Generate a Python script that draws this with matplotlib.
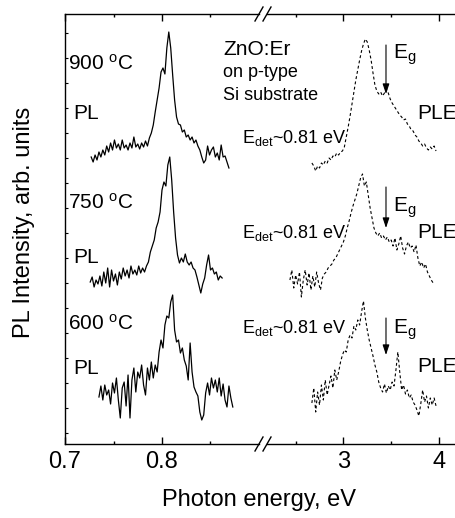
import numpy as np
import matplotlib
matplotlib.use('Agg')
import matplotlib.pyplot as plt
from matplotlib.lines import Line2D

plt.rcParams['font.family'] = ['Liberation Sans', 'DejaVu Sans']
plt.rcParams['mathtext.fontset'] = 'custom'
plt.rcParams['mathtext.rm'] = 'Liberation Sans'
plt.rcParams['mathtext.it'] = 'Liberation Sans:italic'
plt.rcParams['mathtext.default'] = 'regular'

# ---------------- data (intensity in arbitrary units, curves vertically offset) -------------
# PL spectra: photon energy grid (eV) start and step, intensity values
pl_step = 0.002
pl900_start = 0.727
pl900 = [287, 282, 289, 284, 292, 287, 294, 289, 298, 292, 301, 294, 304, 296, 300, 294,
         304, 296, 299, 294, 301, 296, 307, 297, 300, 295, 301, 297, 303, 298, 306, 311,
         319, 332, 344, 356, 372, 376, 370, 396, 412, 396, 369, 344, 327, 320, 319, 312,
         314, 307, 309, 304, 307, 301, 304, 298, 294, 287, 281, 284, 298, 289, 294, 297,
         287, 291, 284, 299, 287, 288, 282, 276]
pl750_start = 0.726
pl750 = [162, 167, 157, 164, 160, 168, 158, 172, 161, 176, 157, 174, 163, 170, 159, 172,
         165, 176, 168, 174, 166, 178, 170, 174, 169, 178, 171, 176, 172, 178, 182, 192,
         198, 204, 216, 222, 232, 254, 262, 258, 279, 287, 264, 232, 206, 189, 181, 186,
         182, 190, 182, 179, 182, 176, 174, 167, 159, 151, 160, 166, 179, 189, 174, 176,
         170, 172, 164, 168, 166]
pl600_start = 0.735
pl600 = [47, 58, 44, 59, 49, 54, 40, 61, 51, 66, 44, 26, 56, 62, 38, 69, 26, 64, 76, 52,
         72, 66, 79, 59, 49, 76, 64, 82, 66, 79, 72, 92, 104, 96, 119, 128, 126, 142, 149, 114,
         102, 104, 91, 96, 84, 78, 64, 101, 72, 57, 52, 48, 32, 24, 29, 51, 61, 49, 66, 56,
         64, 52, 66, 48, 60, 44, 37, 58, 46, 37]

# PLE spectra (detection at ~0.81 eV)
ple_step = 0.02
ple900_start = 2.67
ple900 = [281, 278, 273, 278, 276, 281, 279, 283, 281, 286, 284, 288, 287, 291, 289, 292,
          293, 297, 307, 317, 328, 340, 352, 364, 374, 384, 393, 400, 405, 402, 394, 384,
          371, 359, 353, 350, 352, 348, 351, 355, 351, 345, 341, 338, 335, 332, 329, 327,
          324, 325, 320, 318, 314, 313, 309, 307, 303, 301, 298, 300, 296, 294, 297, 295,
          298, 293]
ple750_start = 2.44
ple750 = [164, 174, 156, 169, 160, 172, 147, 164, 174, 159, 171, 154, 168, 157, 172, 161,
          154, 166, 170, 172, 176, 178, 180, 184, 186, 190, 194, 198, 202, 208, 216, 223,
          231, 238, 244, 250, 258, 266, 270, 258, 262, 249, 236, 226, 216, 211, 208, 211,
          206, 208, 204, 207, 202, 204, 198, 206, 194, 200, 208, 196, 190, 198, 202, 196,
          198, 192, 199, 186, 178, 182, 176, 180, 172, 168, 164, 161]
ple600_start = 2.67
ple600 = [41, 56, 32, 52, 39, 59, 44, 64, 49, 59, 68, 56, 74, 64, 72, 82, 89, 94, 92, 104,
          109, 106, 118, 114, 124, 119, 132, 143, 126, 114, 104, 96, 88, 79, 72, 62, 56, 52,
          60, 51, 58, 54, 62, 58, 74, 92, 72, 54, 59, 50, 54, 46, 49, 42, 39, 34, 28, 40,
          54, 42, 48, 36, 46, 39, 46, 38]

temps = ['900', '750', '600']
e_gap = 3.446

# ---------------- layout helpers (pixel -> figure fraction) ----------------
W, H = 456, 518
fig = plt.figure(figsize=(W / 100, H / 100), dpi=100)


def fx(px):
    return px / W


def fy(py):
    return 1 - py / H


top, bot = 14, 444
ax1 = fig.add_axes([fx(65), fy(bot), fx(259) - fx(65), fy(top) - fy(bot)])
ax2 = fig.add_axes([fx(267), fy(bot), fx(458) - fx(267), fy(top) - fy(bot)])

for start, vals in [(pl900_start, pl900), (pl750_start, pl750), (pl600_start, pl600)]:
    e = start + pl_step * np.arange(len(vals))
    ax1.plot(e, vals, color='black', lw=0.9)

for start, vals in [(ple900_start, ple900), (ple750_start, ple750), (ple600_start, ple600)]:
    e = start + ple_step * np.arange(len(vals))
    ax2.plot(e, vals, color='black', lw=0.8, dashes=(2.6, 2.2))

for ax in (ax1, ax2):
    ax.set_ylim(0, 430)
    for s in ax.spines.values():
        s.set_linewidth(1.0)
    ax.tick_params(axis='x', which='both', direction='in', top=True, bottom=True,
                   labelsize=17, pad=5, width=1.0)
    ax.tick_params(axis='x', which='major', length=5)
    ax.tick_params(axis='x', which='minor', length=2.5)

ax1.set_xlim(0.7, 0.9)
ax1.set_xticks([0.7, 0.8])
ax1.set_xticklabels(['0.7', '0.8'])
ax1.set_xticks([0.75, 0.85], minor=True)
ax1.spines['right'].set_visible(False)
ax1.set_yticks(np.arange(11, 430, 25))
ax1.set_yticklabels([])
ax1.tick_params(axis='y', direction='in', length=2.5, width=0.8, left=True, right=False)

ax2.set_xlim(2.2, 4.2)
ax2.set_xticks([3, 4])
ax2.set_xticklabels(['3', '4'])
ax2.set_xticks([2.5, 3.5], minor=True)
ax2.spines['left'].set_visible(False)
ax2.spines['right'].set_visible(False)
ax2.set_yticks([])

# break marks
for x0 in (259, 267):
    for y0 in (top, bot):
        fig.add_artist(Line2D([fx(x0 - 4), fx(x0 + 4)], [fy(y0 + 7), fy(y0 - 7)],
                              color='black', lw=1.0))

# labels
fig.text(fx(24), fy(222), 'PL Intensity, arb. units', rotation=90,
         ha='center', va='center', fontsize=17)
fig.text(fx(259), fy(506), 'Photon energy, eV', ha='center', va='baseline', fontsize=17)


def t(px, py, s, size=15):
    fig.text(fx(px), fy(py), s, ha='left', va='baseline', fontsize=size)


temp_y = [70, 209, 330]
pl_y = [119, 263, 374]
edet_y = [143, 238, 333]
eg_y = [59, 212, 334]
ple_y = [119, 238, 372]
for i, tc in enumerate(temps):
    t(68, temp_y[i], tc + ' $^{\\mathrm{o}}$C')
    t(73, pl_y[i], 'PL')
    t(242, edet_y[i], 'E$_{\\mathrm{det}}$~0.81 eV', 13)
    t(393, eg_y[i], 'E$_{\\mathrm{g}}$')
    t(417, ple_y[i], 'PLE')

t(223, 55, 'ZnO:Er')
t(223, 77, 'on p-type', 13)
t(223, 100, 'Si substrate', 13)

# Eg arrows (intensity units)
arrows = [(399, 350), (257, 216), (126, 89)]
for y_from, y_to in arrows:
    ax2.annotate('', xy=(e_gap, y_to), xytext=(e_gap, y_from),
                 arrowprops=dict(arrowstyle='-|>,head_length=0.6,head_width=0.2',
                                 color='black', lw=0.8, mutation_scale=10,
                                 shrinkA=0, shrinkB=0))

fig.savefig('out.png', dpi=100)
